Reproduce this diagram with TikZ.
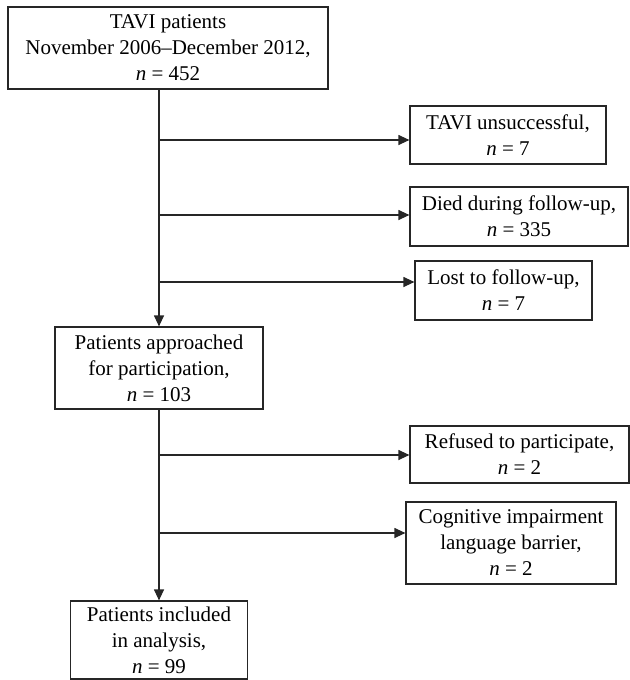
\documentclass[tikz,border=0pt]{standalone}
\usepackage{fontspec}
\setmainfont{Liberation Serif}
\usetikzlibrary{arrows.meta}

\begin{document}
\begin{tikzpicture}[x=1bp,y=-1bp]
	\tikzset{box/.style={draw=black!85,line width=1.2bp,align=center,inner sep=0pt,font=\fontsize{21bp}{26bp}\selectfont},
		flow/.style={draw=black!85,line width=1.2bp,-{Triangle[length=11bp,width=10bp]}}}
	
	% Fix the page to the reference size
	\useasboundingbox (0,0) rectangle (630,680);
	
	% Main column of boxes
	\node[box,minimum width=320bp,minimum height=82bp] (tavi) at (168,48) {TAVI patients\\November 2006--December 2012,\\\textit{n} = 452};
	\node[box,minimum width=208bp,minimum height=82bp] (approached) at (159,368) {Patients approached\\for participation,\\\textit{n} = 103};
	\node[box,minimum width=177bp,minimum height=78bp] (included) at (159,640) {Patients included\\in analysis,\\\textit{n} = 99};
	
	% Exclusions of the first step
	\node[box,minimum width=196bp,minimum height=58bp] (unsuccessful) at (508,135) {TAVI unsuccessful,\\\textit{n} = 7};
	\node[box,minimum width=218bp,minimum height=59bp] (died) at (519,216.5) {Died during follow-up,\\\textit{n} = 335};
	\node[box,minimum width=177bp,minimum height=59bp] (lost) at (503.5,290.5) {Lost to follow-up,\\\textit{n} = 7};
	
	% Exclusions of the second step
	\node[box,minimum width=219bp,minimum height=57bp] (refused) at (519.5,454.5) {Refused to participate,\\\textit{n} = 2};
	\node[box,minimum width=210bp,minimum height=82bp] (cognitive) at (511,543) {Cognitive impairment\\language barrier,\\\textit{n} = 2};
	
	% Branch points on the vertical lines
	\coordinate (s1) at (159,140);
	\coordinate (s2) at (159,215);
	\coordinate (s3) at (159,282);
	\coordinate (s4) at (159,455);
	\coordinate (s5) at (159,533);
	
	% Vertical lines
	\draw[flow] (tavi.south -| approached) -- (approached.north);
	\draw[flow] (approached.south) -- (included.north);
	
	% Arrows to the excluded groups
	\draw[flow] (s1) -- (s1 -| unsuccessful.west);
	\draw[flow] (s2) -- (s2 -| died.west);
	\draw[flow] (s3) -- (s3 -| lost.west);
	\draw[flow] (s4) -- (s4 -| refused.west);
	\draw[flow] (s5) -- (s5 -| cognitive.west);
	
\end{tikzpicture}
\end{document}
